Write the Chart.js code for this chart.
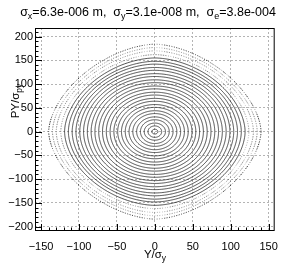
<!DOCTYPE html>
<html>
<head>
<meta charset="utf-8">
<script src="https://cdn.jsdelivr.net/npm/chart.js@4"></script>
<style>
html, body { margin: 0; padding: 0; background: #fff; }
</style>
</head>
<body>
<canvas id="phaseChart" width="287" height="270"></canvas>
<script>
// orbit amplitudes (in sigma units)
const ringAx = [4, 9, 14, 19, 24, 29, 34, 39, 44, 49, 54, 59, 64, 69, 74, 79, 84, 89, 94, 99, 104, 109, 114, 119, 124, 130, 135, 140];
const ringAy = [5, 12, 18, 25, 31, 38, 44, 51, 57, 64, 70, 77, 83, 90, 96, 103, 109, 116, 122, 129, 135, 142, 148, 155, 162, 170, 177, 184];
// squareness of each orbit (2 = ellipse, lower = diamond-ish)
const ringShape = [2, 2, 2, 2, 2, 2, 2, 2, 2, 2, 2, 2, 2, 2, 2, 1.98, 1.96, 1.94, 1.92, 1.9, 1.88, 1.85, 1.82, 1.8, 1.78, 1.75, 1.72, 1.7];
const xTicks = [-150, -100, -50, 0, 50, 100, 150];
const yTicks = [-200, -150, -100, -50, 0, 50, 100, 150, 200];

const FONT = '"Liberation Sans", Arial, Helvetica, sans-serif';
const N = 180;

function orbit(ax, ay, p) {
    const pts = [];
    for (let k = 0; k <= N; k++) {
        const t = 2 * Math.PI * k / N;
        const c = Math.cos(t), s = Math.sin(t);
        pts.push({
            x: ax * Math.sign(c) * Math.pow(Math.abs(c), 2 / p),
            y: ay * Math.sign(s) * Math.pow(Math.abs(s), 2 / p)
        });
    }
    return pts;
}

const datasets = ringAx.map((ax, i) => {
    const outer = i >= 24;
    const last = i === ringAx.length - 1;
    return {
        data: orbit(ax, ringAy[i], ringShape[i]),
        showLine: true,
        pointRadius: 0,
        tension: 0.001,   // avoids the fast path, which assumes x is sorted
        borderColor: last ? '#222' : (outer ? '#666' : '#111'),
        borderWidth: last ? 0.9 : 0.75,
        borderDash: outer ? [1, 1.5] : [],
        fill: false
    };
});

const minus = v => String(v).replace('-', '\u2212');

// frame + ROOT style inner ticks
const framePlugin = {
    id: 'frame',
    afterDatasetsDraw(chart) {
        const { ctx, chartArea: a, scales: { x, y } } = chart;
        ctx.save();
        ctx.strokeStyle = '#000';
        ctx.lineWidth = 1;
        ctx.strokeRect(a.left + 0.5, a.top + 0.5, a.right - a.left - 1, a.bottom - a.top - 1);
        ctx.beginPath();
        for (let v = -150; v <= 150; v += 10) {
            const px = Math.round(x.getPixelForValue(v)) + 0.5;
            const len = v % 50 === 0 ? 7 : 3.5;
            ctx.moveTo(px, a.bottom);
            ctx.lineTo(px, a.bottom - len);
        }
        for (let v = -200; v <= 210; v += 10) {
            const py = Math.round(y.getPixelForValue(v)) + 0.5;
            const len = v % 50 === 0 ? 7 : 3.5;
            ctx.moveTo(a.left, py);
            ctx.lineTo(a.left + len, py);
        }
        ctx.stroke();
        ctx.restore();
    }
};

function drawParts(ctx, parts, size, subSize) {
    let w = 0;
    parts.forEach(([t, sub]) => {
        ctx.font = (sub ? subSize : size) + 'px ' + FONT;
        w += ctx.measureText(t).width;
    });
    return w;
}

function writeParts(ctx, parts, x0, y0, size, subSize) {
    let xx = x0;
    parts.forEach(([t, sub]) => {
        ctx.font = (sub ? subSize : size) + 'px ' + FONT;
        ctx.fillText(t, xx, sub ? y0 + 3 : y0);
        xx += ctx.measureText(t).width;
    });
}

const titlePlugin = {
    id: 'titles',
    afterDraw(chart) {
        const ctx = chart.ctx;
        ctx.save();
        ctx.fillStyle = '#000';
        ctx.textBaseline = 'alphabetic';
        ctx.textAlign = 'left';

        const title = [['\u03c3', 0], ['x', 1], ['=6.3e-006 m,  \u03c3', 0], ['y', 1], ['=3.1e-008 m,  \u03c3', 0], ['e', 1], ['=3.8e-004', 0]];
        let w = drawParts(ctx, title, 12.5, 9);
        writeParts(ctx, title, 148 - w / 2, 16, 12.5, 9);

        const xt = [['Y/\u03c3', 0], ['y', 1]];
        w = drawParts(ctx, xt, 11.5, 8.5);
        writeParts(ctx, xt, 155 - w / 2, 258, 11.5, 8.5);

        const yt = [['PY/\u03c3', 0], ['py', 1]];
        w = drawParts(ctx, yt, 11.5, 8.5);
        ctx.translate(19, 101);
        ctx.rotate(-Math.PI / 2);
        writeParts(ctx, yt, -w / 2, 0, 11.5, 8.5);
        ctx.restore();
    }
};

new Chart(document.getElementById('phaseChart').getContext('2d'), {
    type: 'scatter',
    data: { datasets },
    options: {
        responsive: false,
        animation: false,
        layout: { padding: { top: 28, right: 8, left: 0, bottom: 0 } },
        plugins: { legend: { display: false }, tooltip: { enabled: false } },
        scales: {
            x: {
                type: 'linear',
                min: -158,
                max: 158,
                afterBuildTicks: s => { s.ticks = xTicks.map(v => ({ value: v })); },
                afterFit: s => { s.height = 39; },
                ticks: {
                    callback: minus,
                    color: '#000',
                    font: { family: FONT, size: 11 },
                    padding: 9,
                    maxRotation: 0,
                    autoSkip: false
                },
                grid: { color: '#b4b4b4', lineWidth: 1, drawTicks: false },
                border: { display: false, dash: [2, 2] }
            },
            y: {
                type: 'linear',
                min: -209,
                max: 218,
                afterBuildTicks: s => { s.ticks = yTicks.map(v => ({ value: v })); },
                afterFit: s => { s.width = 35; },
                ticks: {
                    callback: minus,
                    color: '#000',
                    font: { family: FONT, size: 11 },
                    padding: 2,
                    autoSkip: false
                },
                grid: { color: '#b4b4b4', lineWidth: 1, drawTicks: false },
                border: { display: false, dash: [2, 2] }
            }
        }
    },
    plugins: [framePlugin, titlePlugin]
});
</script>
</body>
</html>
